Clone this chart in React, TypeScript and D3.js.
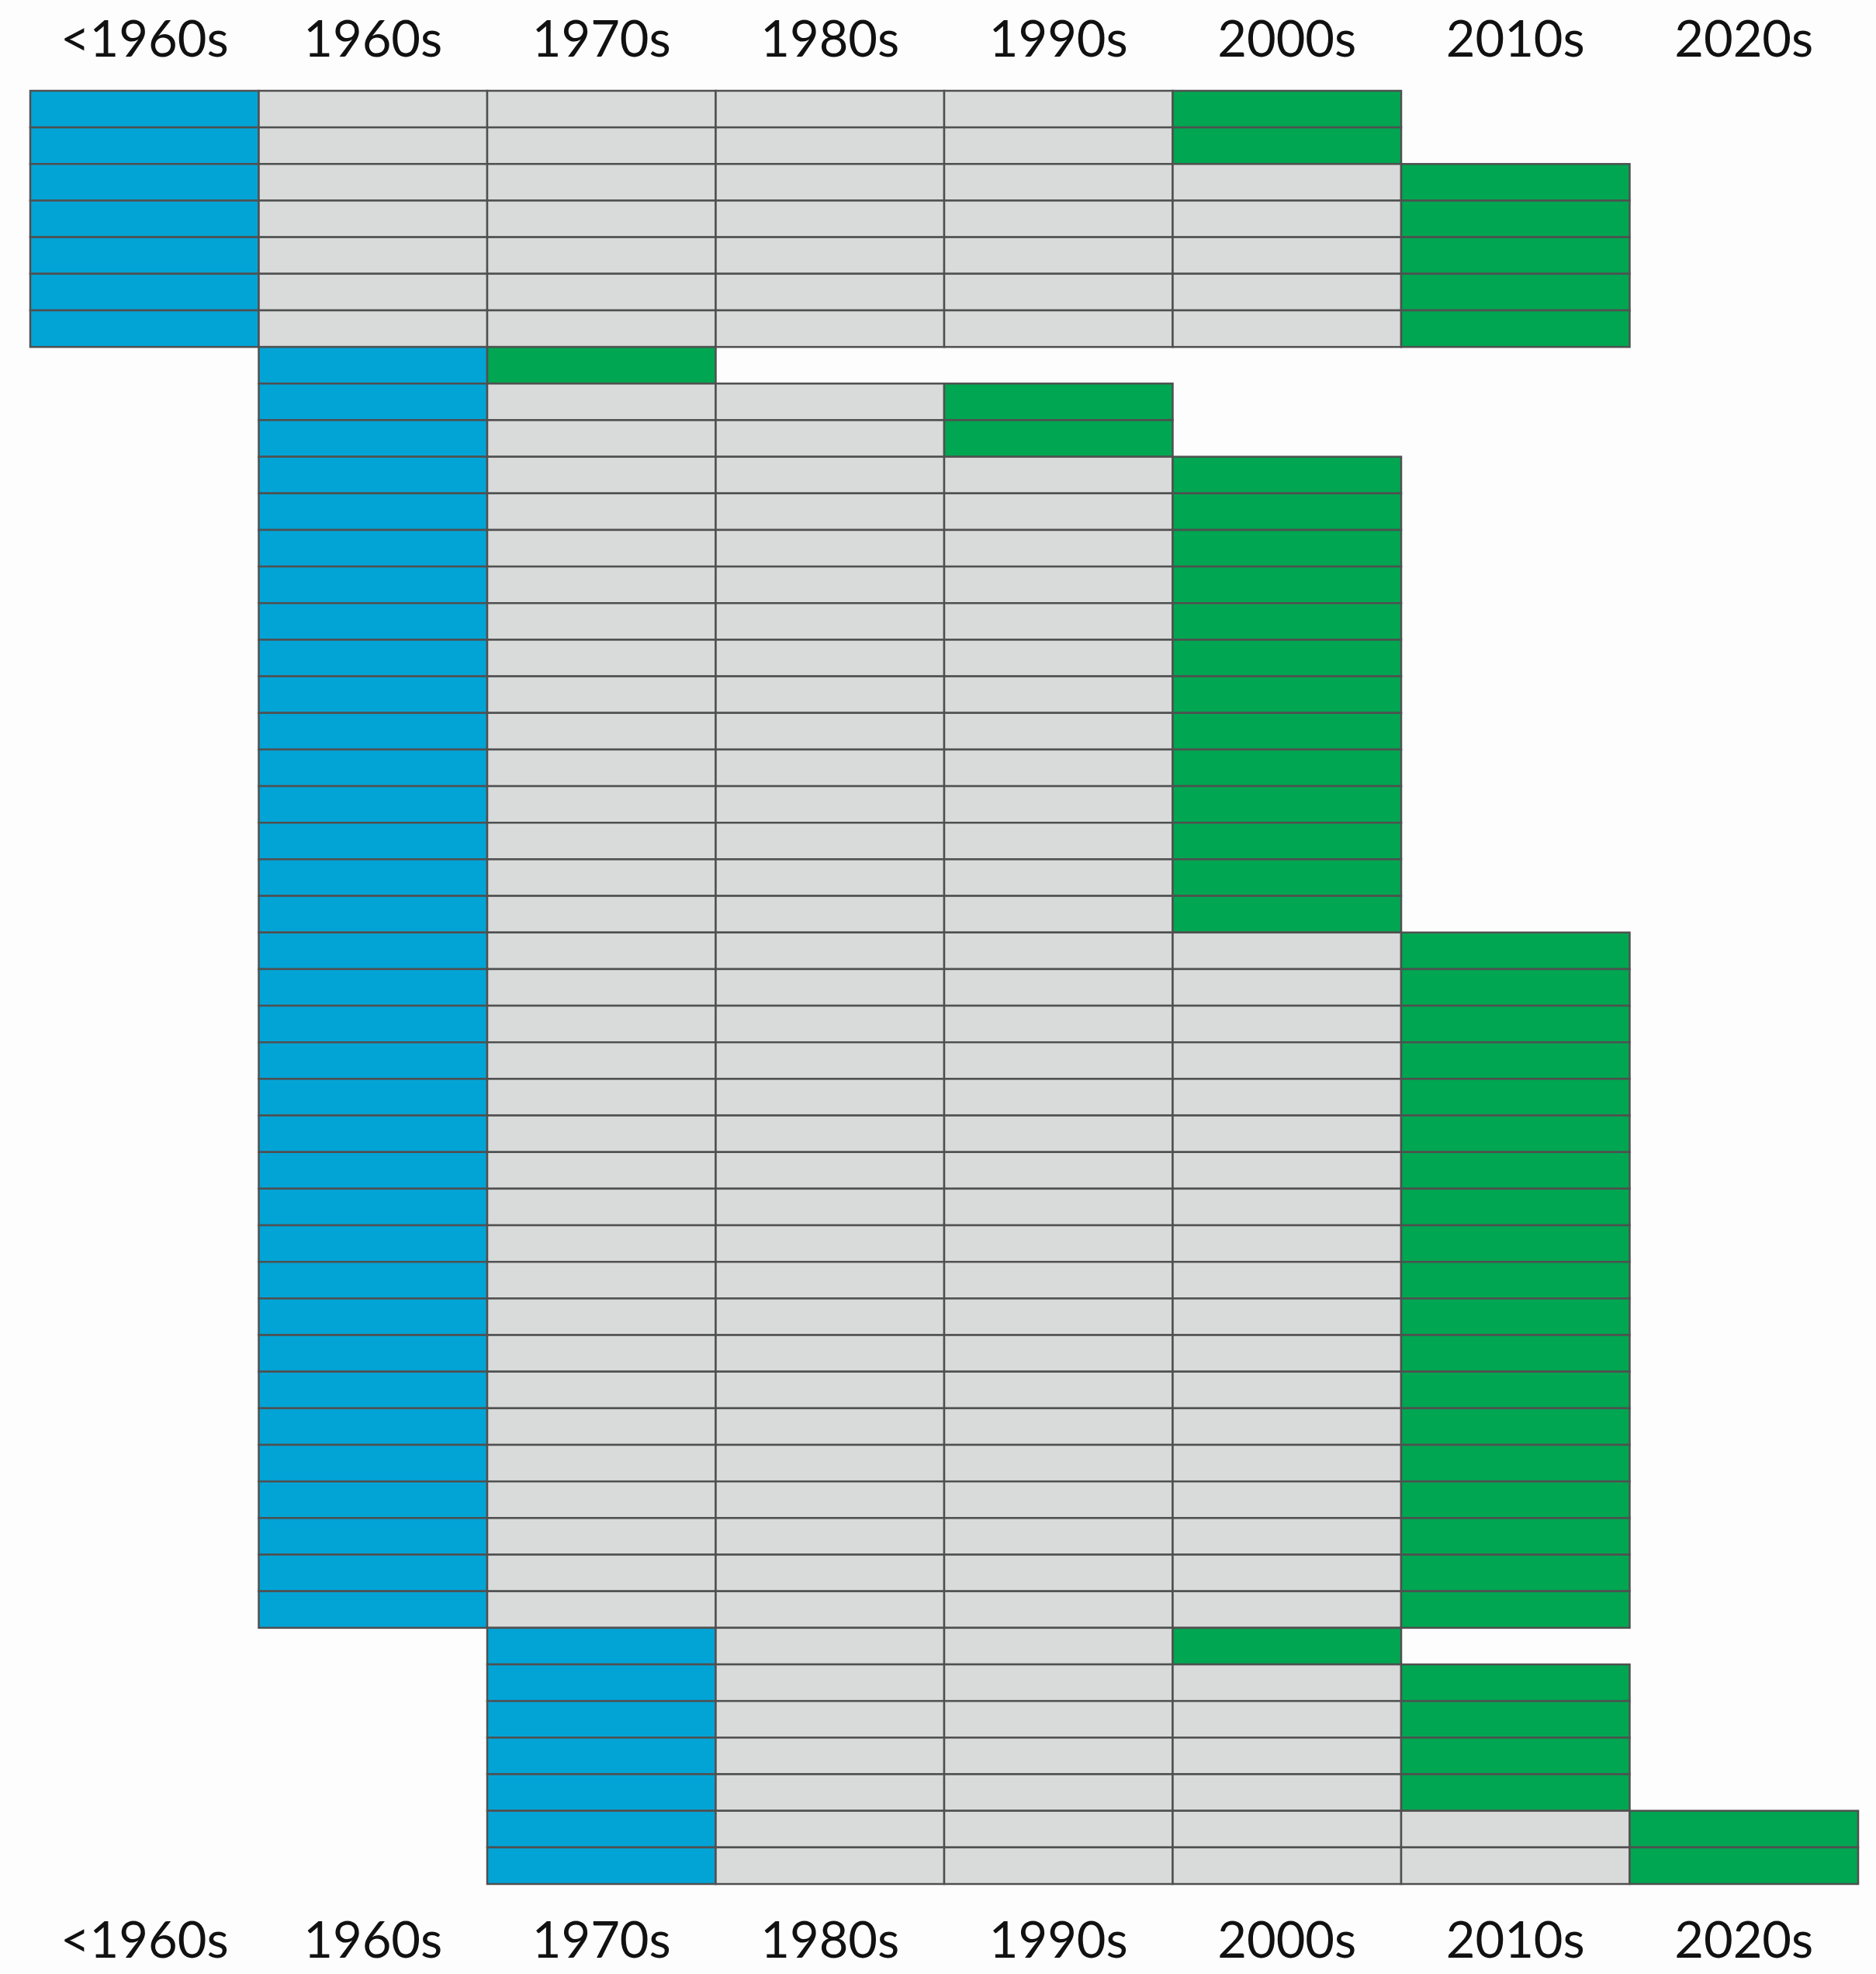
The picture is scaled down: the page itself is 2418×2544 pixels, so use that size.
import React, { useEffect } from 'react';
import * as d3 from 'd3';

// decade columns
const decades = ['<1960s', '1960s', '1970s', '1980s', '1990s', '2000s', '2010s', '2020s'];

// groups of rows: first decade, last decade, how many rows
const groupStart = ['<1960s', '<1960s', '1960s', '1960s', '1960s', '1960s', '1970s', '1970s', '1970s'];
const groupEnd = ['2000s', '2010s', '1970s', '1990s', '2000s', '2010s', '2000s', '2010s', '2020s'];
const groupCount = [2, 5, 1, 2, 13, 19, 1, 4, 2];

const W = 2418;
const H = 2544;
const margin = { top: 117, right: 23, bottom: 116, left: 39 };

const BLUE = '#02a4d6';
const GREEN = '#00a651';
const GREY = '#d9dbda';
const STROKE = '#505050';

type Row = { start: number; end: number };

const rows: Row[] = [];
groupStart.forEach((s, i) => {
  for (let k = 0; k < groupCount[i]; k++) {
    rows.push({ start: decades.indexOf(s), end: decades.indexOf(groupEnd[i]) });
  }
});

const App = () => {
  useEffect(() => {
    document.body.style.margin = '0';
  }, []);

  const x = d3
    .scaleBand<string>()
    .domain(decades)
    .range([margin.left, W - margin.right])
    .padding(0);

  const y = d3
    .scaleBand<number>()
    .domain(d3.range(rows.length))
    .range([margin.top, H - margin.bottom])
    .padding(0);

  const cells: { key: string; d: string; r: number; fill: string }[] = [];
  rows.forEach((row, r) => {
    for (let c = row.start; c <= row.end; c++) {
      const fill = c === row.start ? BLUE : c === row.end ? GREEN : GREY;
      cells.push({ key: `${r}-${c}`, d: decades[c], r, fill });
    }
  });

  const labelFont = { fontFamily: 'Lato, "Open Sans", sans-serif', fontSize: 65, fill: '#111' };

  return (
    <svg width={W} height={H} style={{ display: 'block' }}>
      <rect width={W} height={H} fill="#fdfdfd" />
      <g>
        {cells.map((c) => (
          <rect
            key={c.key}
            x={x(c.d)}
            y={y(c.r)}
            width={x.bandwidth()}
            height={y.bandwidth()}
            fill={c.fill}
            stroke={STROKE}
            strokeWidth={2.5}
          />
        ))}
      </g>
      <g>
        {decades.map((d) => (
          <text key={'t' + d} x={(x(d) as number) + x.bandwidth() / 2} y={73} textAnchor="middle" {...labelFont}>
            {d}
          </text>
        ))}
        {decades.map((d) => (
          <text key={'b' + d} x={(x(d) as number) + x.bandwidth() / 2} y={2523} textAnchor="middle" {...labelFont}>
            {d}
          </text>
        ))}
      </g>
    </svg>
  );
};

export default App;
